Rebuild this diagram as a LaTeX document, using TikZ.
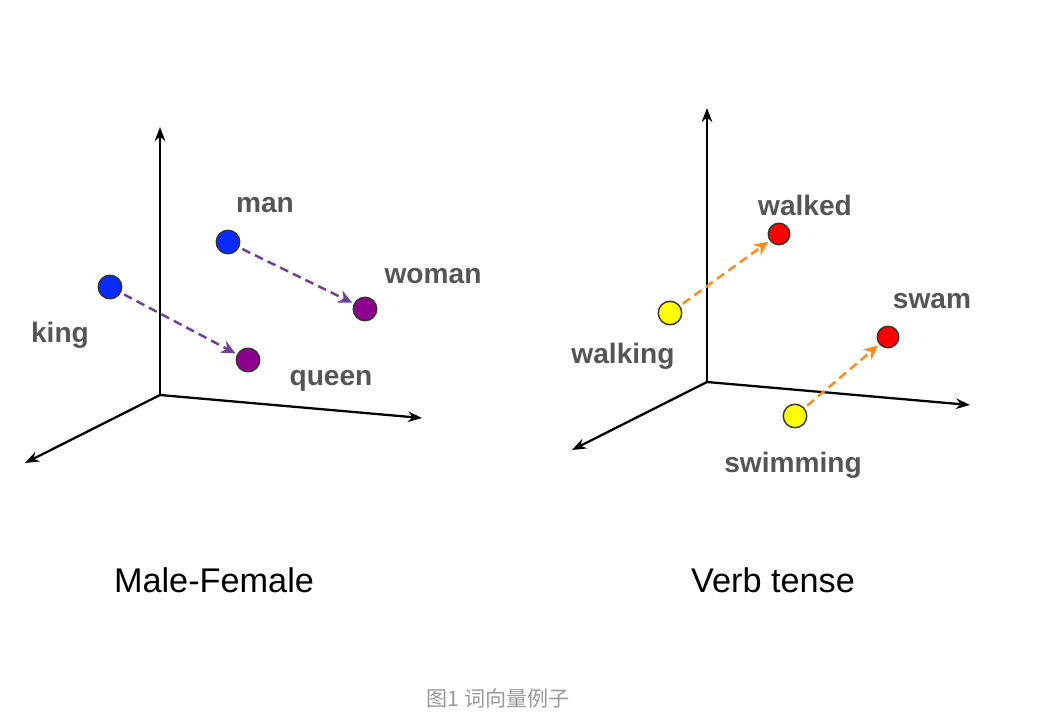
\documentclass[tikz,border=0pt]{standalone}
\usepackage{fontspec}
\setmainfont{Liberation Sans}
\newfontfamily\cjk{Noto Sans CJK SC}
\usetikzlibrary{arrows.meta}
\definecolor{wordgray}{HTML}{555555}
\definecolor{dotblue}{HTML}{0A2BFF}
\definecolor{dotpurple}{HTML}{8E008E}
\definecolor{vecpurple}{HTML}{6E3F96}
\definecolor{vecorange}{HTML}{FF8A1E}
\definecolor{dotred}{HTML}{FF0000}
\definecolor{dotyellow}{HTML}{FFFF00}

\begin{document}
\begin{tikzpicture}[
  x=0.02cm, y=-0.02cm,
  axis/.style={line width=1.3pt, -{Stealth[length=8pt, width=6pt]}},
  dot/.style={circle, draw=black!80, line width=0.8pt, inner sep=0pt, minimum size=0.47cm},
  word/.style={text=wordgray, font=\fontsize{16}{18}\selectfont\bfseries},
  title/.style={text=black, font=\fontsize{19.5}{22}\selectfont},
  vec/.style={line width=1.4pt, dash pattern=on 5pt off 3pt, -{Stealth[length=8pt, width=7.5pt]}, shorten >=1pt, shorten <=2pt}]
\useasboundingbox (0,0) rectangle (1048,716);

% male-female axes
\coordinate (o1) at (160,395);
\coordinate (z1) at (160,127);
\coordinate (x1) at (422,418);
\coordinate (y1) at (25,463);
\draw[axis] (o1) -- (z1);
\draw[axis] (o1) -- (x1);
\draw[axis] (o1) -- (y1);

\node[dot, fill=dotblue] (man) at (228,242) {};
\node[dot, fill=dotblue] (king) at (110,287) {};
\node[dot, fill=dotpurple] (queen) at (248,360) {};
\node[dot, fill=dotpurple] (woman) at (365,309) {};
\node[word] (manlbl) at (265,205) {man};
\node[word] (womanlbl) at (433,276) {woman};
\node[word] (kinglbl) at (60,335) {king};
\node[word] (queenlbl) at (331,381) {queen};
\draw[vec, vecpurple] (man) -- (woman);
\draw[vec, vecpurple] (king) -- (queen);

% verb tense axes
\coordinate (o2) at (707,382);
\coordinate (z2) at (707,108);
\coordinate (x2) at (970,405);
\coordinate (y2) at (572,450);
\draw[axis] (o2) -- (z2);
\draw[axis] (o2) -- (x2);
\draw[axis] (o2) -- (y2);

\node[dot, fill=dotred, minimum size=0.43cm] (walked) at (779,234) {};
\node[dot, fill=dotyellow] (walking) at (670,313) {};
\node[dot, fill=dotred, minimum size=0.43cm] (swam) at (888,337) {};
\node[dot, fill=dotyellow] (swimming) at (795,416) {};
\node[word] (walkedlbl) at (805,205) {walked};
\node[word] (walkinglbl) at (623,356) {walking};
\node[word] (swamlbl) at (932,301) {swam};
\node[word] (swimminglbl) at (793,465) {swimming};
\draw[vec, vecorange] (walking) -- (walked);
\draw[vec, vecorange] (swimming) -- (swam);

% titles
\node[title] (mf) at (214,580) {Male-Female};
\node[title] (vt) at (773,580) {Verb tense};
\node[text=black!40, font=\cjk\fontsize{12}{14}\selectfont] (cap) at (498,698) {图1 词向量例子};
\end{tikzpicture}
\end{document}
